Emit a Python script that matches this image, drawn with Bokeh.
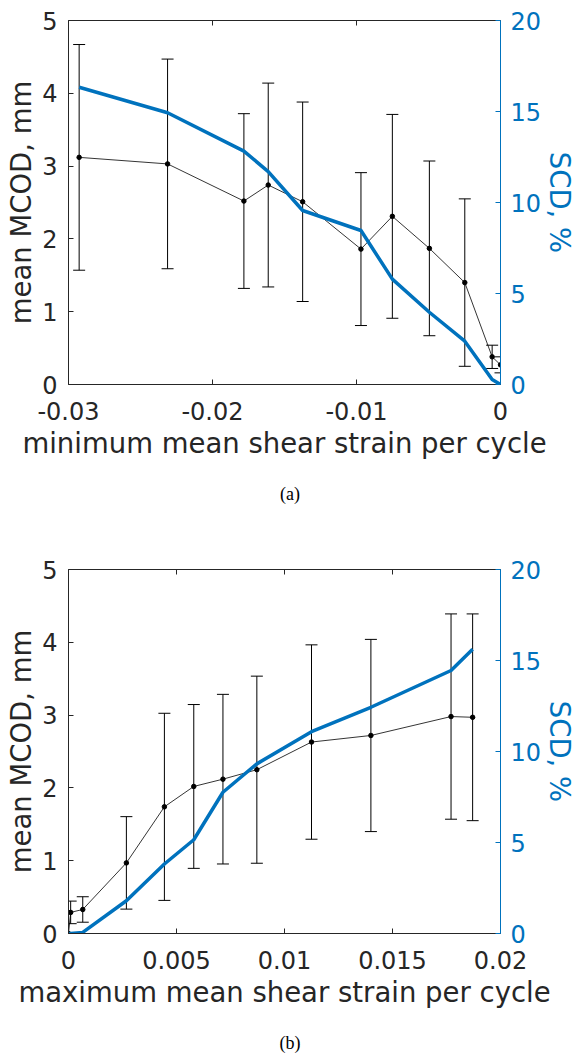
from bokeh.plotting import figure
from bokeh.models import (Range1d, LinearAxis, Whisker, TeeHead, ColumnDataSource,
                          FixedTicker, Div)
from bokeh.layouts import column
from bokeh.embed import file_html
from bokeh.resources import INLINE

# ---------------- data: panel (a) ----------------
strain_a = [-0.02926, -0.02312, -0.01782, -0.01613, -0.01374, -0.00969,
            -0.00751, -0.00494, -0.00248, -0.00058, 0.0, 0.0]
mcod_a = [3.12, 3.03, 2.52, 2.74, 2.51, 1.86, 2.31, 1.87, 1.40, 0.38, 0.27, 0.0]
sd_a = [1.55, 1.44, 1.20, 1.40, 1.37, 1.05, 1.40, 1.20, 1.15, 0.16, 0.11, 0.0]
scd_a = [16.33, 14.93, 12.82, 11.70, 9.56, 8.46, 5.79, 3.97, 2.38, 0.27, 0.0, 0.0]
xticks_a = [-0.03, -0.02, -0.01, 0.0]
xtick_labels_a = ["-0.03", "-0.02", "-0.01", "0"]
xlabel_a = "minimum mean shear strain per cycle"
caption_a = "(a)"

# ---------------- data: panel (b) ----------------
strain_b = [0.0, 0.0001, 0.00066, 0.00268, 0.00444, 0.0058, 0.00715,
            0.00872, 0.01125, 0.0140, 0.01771, 0.01871]
mcod_b = [0.0, 0.29, 0.33, 0.97, 1.74, 2.02, 2.12, 2.25, 2.63, 2.72, 2.98, 2.97]
sd_b = [0.0, 0.155, 0.175, 0.635, 1.285, 1.125, 1.165, 1.285, 1.335, 1.32, 1.41, 1.42]
scd_b = [0.0, 0.0, 0.06, 1.80, 3.82, 5.15, 7.76, 9.32, 11.09, 12.43, 14.45, 15.62]
xticks_b = [0.0, 0.005, 0.01, 0.015, 0.02]
xtick_labels_b = ["0", "0.005", "0.01", "0.015", "0.02"]
xlabel_b = "maximum mean shear strain per cycle"
caption_b = "(b)"

# ---------------- shared axes ----------------
mcod_ticks = [0, 1, 2, 3, 4, 5]
mcod_tick_labels = ["0", "1", "2", "3", "4", "5"]
scd_ticks = [0, 5, 10, 15, 20]
scd_tick_labels = ["0", "5", "10", "15", "20"]
ylabel_left = "mean MCOD, mm"
ylabel_right = "SCD, %"

FONT = "DejaVu Sans"
AX = "#262626"
BLUE = "#0072BD"
TICK_FS = "24px"
LABEL_FS = "27.5px"
WIDTH = 580


def style_axis(ax, color):
    ax.axis_line_color = color
    ax.axis_line_width = 1
    ax.major_tick_line_color = color
    ax.major_tick_in = 5
    ax.major_tick_out = 0
    ax.minor_tick_line_color = None
    ax.major_label_text_font = FONT
    ax.major_label_text_color = color
    ax.major_label_text_font_size = TICK_FS
    ax.axis_label_text_font = FONT
    ax.axis_label_text_font_style = "normal"
    ax.axis_label_text_color = color
    ax.axis_label_text_font_size = LABEL_FS


def make_panel(xs, mcod, sd, scd, xrng, xticks, xticklabels, xlabel, top):
    height = top + 364 + 96
    p = figure(width=WIDTH, height=height, x_range=Range1d(*xrng),
               y_range=Range1d(0, 5), x_axis_location=None, y_axis_location=None,
               output_backend="svg", toolbar_location=None,
               min_border_left=68, min_border_right=80, min_border_top=top,
               min_border_bottom=96)
    p.extra_y_ranges = {"scd": Range1d(0, 20)}
    p.outline_line_color = None
    p.xgrid.grid_line_color = None
    p.ygrid.grid_line_color = None
    p.background_fill_color = "white"
    p.border_fill_color = "white"

    below = LinearAxis(ticker=FixedTicker(ticks=xticks), axis_label=xlabel,
                       major_label_overrides=dict(zip(xticks, xticklabels)))
    style_axis(below, AX)
    below.major_label_standoff = 17
    below.axis_label_standoff = 4
    p.add_layout(below, "below")

    above = LinearAxis(ticker=FixedTicker(ticks=xticks),
                       major_label_overrides={t: "" for t in xticks})
    style_axis(above, AX)
    above.major_label_standoff = 0
    p.add_layout(above, "above")

    left = LinearAxis(ticker=FixedTicker(ticks=mcod_ticks), axis_label=ylabel_left,
                      major_label_overrides=dict(zip(mcod_ticks, mcod_tick_labels)))
    style_axis(left, AX)
    left.major_label_standoff = 11
    left.axis_label_standoff = 2
    p.add_layout(left, "left")

    right = LinearAxis(y_range_name="scd", ticker=FixedTicker(ticks=scd_ticks),
                       axis_label=ylabel_right,
                       major_label_overrides=dict(zip(scd_ticks, scd_tick_labels)))
    style_axis(right, BLUE)
    right.major_label_standoff = 10
    right.axis_label_standoff = 0
    p.add_layout(right, "right")

    lo = [m - s for m, s in zip(mcod, sd)]
    hi = [m + s for m, s in zip(mcod, sd)]
    src = ColumnDataSource(dict(x=xs, y=mcod, lo=lo, hi=hi, scd=scd))

    wh = Whisker(source=src, base="x", upper="hi", lower="lo", dimension="height",
                 line_color="black", line_width=1,
                 upper_head=TeeHead(size=12, line_color="black", line_width=1),
                 lower_head=TeeHead(size=12, line_color="black", line_width=1))
    p.add_layout(wh)
    p.line("x", "y", source=src, line_color="black", line_width=0.8)
    p.scatter("x", "y", source=src, size=4.5, color="black")
    p.line("x", "scd", source=src, y_range_name="scd", line_color=BLUE,
           line_width=3.5, line_join="round")
    return p


def caption(text):
    return Div(text=text, width=WIDTH, height=28, margin=0,
               styles={"text-align": "center", "line-height": "28px",
                       "font-family": "'Liberation Serif', serif",
                       "font-size": "18px", "color": "black"})


p1 = make_panel(strain_a, mcod_a, sd_a, scd_a, (-0.03, 0.0), xticks_a, xtick_labels_a,
                xlabel_a, 20)
p2 = make_panel(strain_b, mcod_b, sd_b, scd_b, (0.0, 0.02), xticks_b, xtick_labels_b,
                xlabel_b, 61)

layout = column(p1, caption(caption_a), p2, caption(caption_b), spacing=0)
open("out.html", "w").write(file_html(layout, INLINE))
